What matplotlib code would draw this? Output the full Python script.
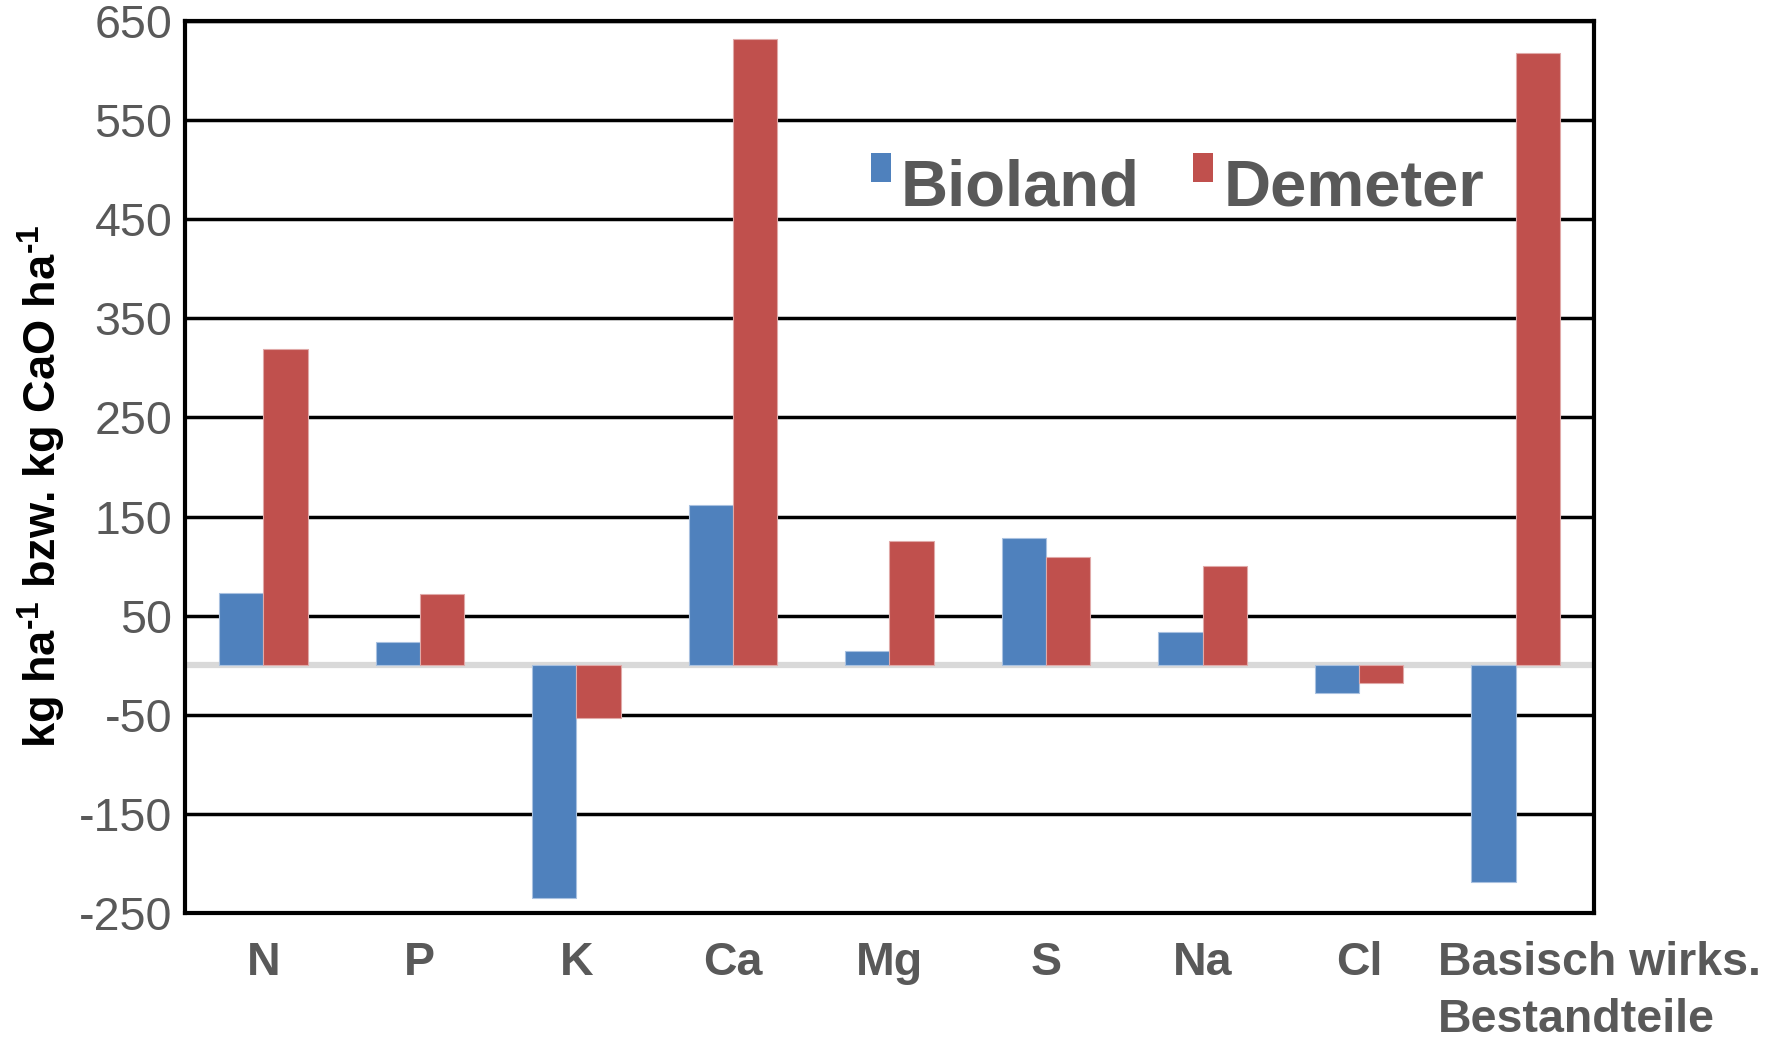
import numpy as np
import matplotlib.pyplot as plt
from matplotlib.transforms import ScaledTranslation

plt.rcParams['font.family'] = ['Liberation Sans', 'DejaVu Sans']
plt.rcParams['mathtext.fontset'] = 'custom'
plt.rcParams['mathtext.rm'] = 'Liberation Sans:bold'
plt.rcParams['mathtext.default'] = 'rm'
plt.rcParams['axes.unicode_minus'] = False

# Nährstoffbilanzen je Verband
categories = ['N', 'P', 'K', 'Ca', 'Mg', 'S', 'Na', 'Cl', 'Basisch wirks.\nBestandteile']
bioland = [73, 23, -235, 162, 14, 128, 34, -28, -219]
demeter = [319, 72, -53, 632, 125, 109, 100, -18, 618]
yticks = [-250, -150, -50, 50, 150, 250, 350, 450, 550, 650]

blue = '#4F81BD'
red = '#C0504D'
grey = '#595959'

fig = plt.figure(figsize=(17.82, 10.39), dpi=100)
ax = fig.add_axes([185 / 1782, 1 - 913 / 1039, (1594 - 185) / 1782, (913 - 21) / 1039])

x = np.arange(len(categories))
w = 0.283
ax.bar(x - w / 2, bioland, w, color=blue, edgecolor='#A9C1E0', linewidth=0.8,
       label='Bioland', zorder=3)
ax.bar(x + w / 2, demeter, w, color=red, edgecolor='#E0A9A8', linewidth=0.8,
       label='Demeter', zorder=3)

ax.set_xlim(-0.5, len(categories) - 0.5)
ax.set_ylim(-250, 650)
ax.set_yticks(yticks)
ax.yaxis.grid(True, color='black', linewidth=2.5, zorder=1)
ax.axhline(0, color='#D9D9D9', linewidth=4.5, zorder=2)

for s in ax.spines.values():
    s.set_linewidth(3)
    s.set_color('black')
    s.set_zorder(4)

ax.tick_params(axis='y', length=0, pad=9, labelsize=33.5, labelcolor=grey)
ax.tick_params(axis='x', length=0, pad=20, labelsize=33.5, labelcolor=grey)
ax.set_xticks(x)
ax.set_xticklabels(categories, fontweight='bold', linespacing=1.38)

last = ax.get_xticklabels()[-1]
last.set_horizontalalignment('left')
last.set_multialignment('left')
last.set_transform(last.get_transform() + ScaledTranslation(-0.78, 0, fig.dpi_scale_trans))

fig.text(42 / 1782, 1 - 486 / 1039, r'kg ha$^{\text{-1}}$ bzw. kg CaO ha$^{\text{-1}}$',
         rotation=90, ha='center', va='center', fontsize=32.5, fontweight='bold',
         color='black')

leg = ax.legend(loc='upper left', bbox_to_anchor=(871 / 1782, 1 - 158 / 1039),
                bbox_transform=fig.transFigure, ncol=2, frameon=False,
                prop={'size': 47, 'weight': 'bold'}, handlelength=0.3,
                handleheight=0.3, handletextpad=0.16, columnspacing=0.82,
                borderpad=0, borderaxespad=0)
for t in leg.get_texts():
    t.set_color(grey)
for h in leg.legend_handles:
    h.set_edgecolor('none')
    h.set_y(h.get_y() + 10)

fig.savefig('out.png', dpi=100)
